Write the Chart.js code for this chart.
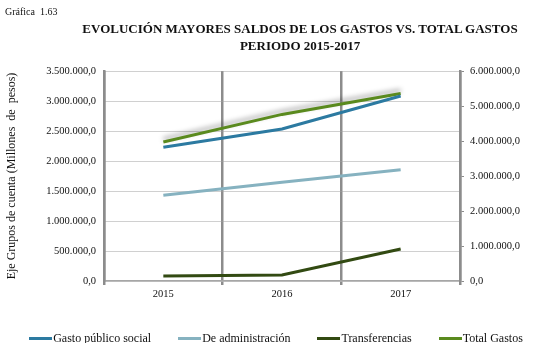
<!DOCTYPE html>
<html>
<head>
<meta charset="utf-8">
<script src="https://cdn.jsdelivr.net/npm/chart.js@4.4.1/dist/chart.umd.min.js"></script>
<style>
  body{margin:0;background:#fff;font-family:"Liberation Serif","Times New Roman",serif;color:#111;}
  #wrap{position:relative;width:552px;height:343px;}
  #grafica{position:absolute;left:5px;top:6px;font-size:10px;}
  #titulo{position:absolute;left:50px;top:20px;width:500px;text-align:center;font-weight:bold;font-size:13px;line-height:17px;}
  #leyenda{position:absolute;left:0;top:331px;width:552px;display:flex;justify-content:center;gap:27px;font-size:12px;}
  .item{display:flex;align-items:center;white-space:nowrap;}
  .item span.linea{display:inline-block;width:23px;height:3px;margin-right:1px;}
  canvas{position:absolute;left:0;top:0;}
</style>
</head>
<body>
<div id="wrap">
  <canvas id="chart" width="552" height="343"></canvas>
  <div id="grafica">Gráfica&nbsp; 1.63</div>
  <div id="titulo">EVOLUCIÓN MAYORES SALDOS DE LOS GASTOS VS. TOTAL GASTOS<br>PERIODO 2015-2017</div>
  <div id="leyenda"></div>
</div>
<script>
//Datos
const years = ['2015','2016','2017'];
const gastoSocial = [2228000, 2533000, 3083000];
const administracion = [1428000, 1645000, 1855000];
const transferencias = [83000, 100000, 533000];
const totalGastos = [3970000, 4760000, 5360000];

const seriesNames = ['Gasto público social','De administración','Transferencias','Total Gastos'];
const seriesColors = ['#2c7aa1','#86b2c0','#324a12','#5a8a1e'];

//formato 3.500.000,0
const fmt = (v) => {
    let s = Math.round(v).toString().replace(/\B(?=(\d{3})+(?!\d))/g, '.');
    return s + ',0';
}

const font = {family:'"Liberation Serif", serif', size:10.5};

// sombra gris bajo la linea del total
const shadowPlugin = {
    id:'lineShadow',
    beforeDatasetDraw(chart, args){
        if(chart.data.datasets[args.index].label !== 'Total Gastos') return;
        const ctx = chart.ctx;
        ctx.save();
        ctx.shadowColor = 'rgba(0,0,0,0.35)';
        ctx.shadowBlur = 5;
        ctx.shadowOffsetY = -3;
    },
    afterDatasetDraw(chart, args){
        if(chart.data.datasets[args.index].label !== 'Total Gastos') return;
        chart.ctx.restore();
    }
};

const values = [gastoSocial, administracion, transferencias, totalGastos];
const datasets = values.map((d,i) => ({
    label: seriesNames[i],
    data: d,
    borderColor: seriesColors[i],
    backgroundColor: seriesColors[i],
    borderWidth: 3,
    pointRadius: 0,
    tension: 0,
    yAxisID: i === 3 ? 'y1' : 'y'
}));

const myChart = new Chart(document.querySelector('#chart'), {
    type:'line',
    data:{ labels: years, datasets: datasets },
    options:{
        responsive:false,
        animation:false,
        layout:{ padding:{top:71, bottom:42, left:0, right:0} },
        plugins:{
            legend:{display:false},
            tooltip:{enabled:false}
        },
        scales:{
            x:{
                offset:true,
                grid:{offset:true, color:'#8c8c8c', lineWidth:2.5, tickLength:4, drawOnChartArea:true},
                border:{color:'#a6a6a6', width:1.5},
                ticks:{font:font, color:'#111', padding:3},
                afterFit(scale){ scale.height = 20; }
            },
            y:{
                position:'left',
                min:0, max:3500000,
                ticks:{stepSize:500000, font:font, color:'#111', padding:8, callback:(v)=>fmt(v)},
                grid:{color:'#a0a0a0', lineWidth:1, drawTicks:false},
                border:{color:'#8c8c8c', width:2.5, dash:[1,1]},
                title:{display:true, text:'Eje Grupos de cuenta (Millones  de  pesos)', font:{family:'"Liberation Serif", serif', size:12}, color:'#111', padding:{top:5, bottom:0}},
                afterFit(scale){ scale.width = 104; }
            },
            y1:{
                position:'right',
                min:0, max:6000000,
                ticks:{stepSize:1000000, font:font, color:'#111', padding:6, callback:(v)=>fmt(v)},
                grid:{drawOnChartArea:false, color:'#8c8c8c', tickLength:4},
                border:{color:'#8c8c8c', width:2.5},
                afterFit(scale){ scale.width = 92; }
            }
        }
    },
    plugins:[shadowPlugin]
});

// leyenda
const leyenda = document.querySelector('#leyenda');
for(let i=0;i<seriesNames.length;i++){
    const item = document.createElement('div');
    item.className = 'item';
    const linea = document.createElement('span');
    linea.className = 'linea';
    linea.style.background = seriesColors[i];
    const txt = document.createElement('span');
    txt.innerText = seriesNames[i];
    item.appendChild(linea);
    item.appendChild(txt);
    leyenda.appendChild(item);
}
</script>
</body>
</html>
